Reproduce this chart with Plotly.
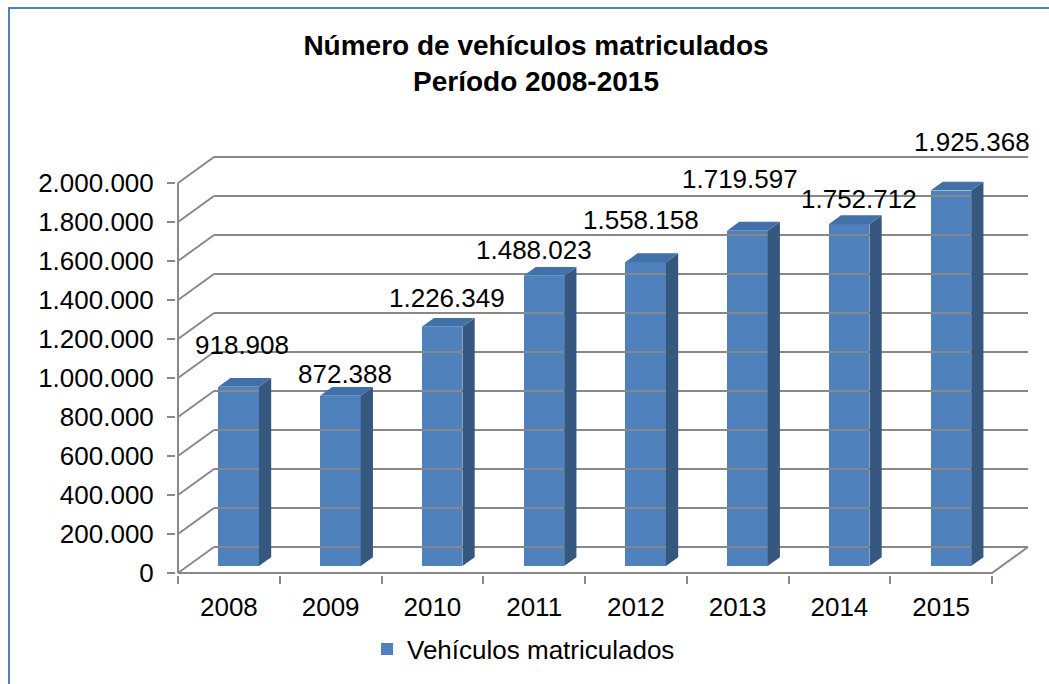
import plotly.graph_objects as go

# ---------------- data ----------------
categories = ["2008", "2009", "2010", "2011", "2012", "2013", "2014", "2015"]
values = [918908, 872388, 1226349, 1488023, 1558158, 1719597, 1752712, 1925368]
series_name = "Vehículos matriculados"
y_ticks = [0, 200000, 400000, 600000, 800000, 1000000, 1200000, 1400000,
           1600000, 1800000, 2000000]
title_lines = ["Número de vehículos matriculados", "Período 2008-2015"]

# label nudges in pixels (manual placement as in the reference)
label_dx = [3, 5, 5, -10, -5, -7, 10, 21]
label_dy = [42, 22, 29, 26, 42, 52, 25, 49]

# ---------------- geometry / style ----------------
W, H = 1049, 684
FONT = "Liberation Sans, Arial, Helvetica, sans-serif"
GRID = "#888888"
FRONT = "#4F81BD"
TOP = "#4271AA"
SIDE = "#36587F"

PLOT_L, PLOT_R, PLOT_T, PLOT_B = 176, 1032, 150, 575
X0_PX = 178            # front-left corner of floor
Y0_PX = 573            # front floor
CW = 101.75            # px per category
K = 390 / 2000000      # px per unit value
DEPTH_X_PX, DEPTH_Y_PX = 36, 26

n = len(categories)
idx = list(range(n))
x_range = [-0.5 - (X0_PX - PLOT_L) / CW, -0.5 + (PLOT_R - X0_PX) / CW]
y_range = [-(PLOT_B - Y0_PX) / K, (Y0_PX - PLOT_T) / K]
DX = DEPTH_X_PX / CW
DY = DEPTH_Y_PX / K

D1, D2 = 0.27, 0.61    # bar front/back depth fraction
BAR_W = 0.40

fig = go.Figure()

# ---------- walls / gridlines ----------
gx, gy = [], []
ymax = y_ticks[-1]
for v in y_ticks:
    gx += [-0.5 + DX, n - 0.5 + DX, None]
    gy += [v + DY, v + DY, None]
    gx += [-0.5, -0.5 + DX, None]
    gy += [v, v + DY, None]
gx += [-0.5, -0.5, None]
gy += [0, ymax, None]
gx += [-0.5, n - 0.5, n - 0.5 + DX, None]
gy += [0, 0, DY, None]
fig.add_trace(go.Scatter(x=gx, y=gy, mode="lines",
                         line=dict(color=GRID, width=2),
                         hoverinfo="skip", showlegend=False))

# ---------- bars ----------
base = D1 * DY
xc = [i + D1 * DX for i in idx]
fig.add_trace(go.Bar(x=xc, y=values, base=[base] * n, width=BAR_W,
                     marker=dict(color=FRONT, line=dict(width=0)),
                     name=series_name, showlegend=True))

dd = D2 - D1
sx, sy, tx, ty = [], [], [], []
for c, v in zip(xc, values):
    xl, xr = c - BAR_W / 2, c + BAR_W / 2
    top = base + v
    sx += [xr, xr + dd * DX, xr + dd * DX, xr, xr, None]
    sy += [base, base + dd * DY, top + dd * DY, top, base, None]
    tx += [xl, xr, xr + dd * DX, xl + dd * DX, xl, None]
    ty += [top, top, top + dd * DY, top + dd * DY, top, None]
fig.add_trace(go.Scatter(x=sx, y=sy, mode="lines", fill="toself",
                         fillcolor=SIDE, line=dict(width=0, color=SIDE),
                         hoverinfo="skip", showlegend=False))
fig.add_trace(go.Scatter(x=tx, y=ty, mode="lines", fill="toself",
                         fillcolor=TOP, line=dict(width=0, color=TOP),
                         hoverinfo="skip", showlegend=False))

# ---------- data labels ----------
for c, v, ox, oy in zip(xc, values, label_dx, label_dy):
    fig.add_annotation(x=c, y=base + v, text=f"{v:,}".replace(",", "."),
                       showarrow=False, xanchor="center", yanchor="middle",
                       xshift=ox, yshift=oy,
                       font=dict(family=FONT, size=26, color="black"))

fig.update_layout(
    width=W, height=H,
    margin=dict(l=PLOT_L, r=W - PLOT_R, t=PLOT_T, b=H - PLOT_B, pad=0,
                autoexpand=False),
    paper_bgcolor="white", plot_bgcolor="rgba(0,0,0,0)",
    separators=",.",
    font=dict(family=FONT, size=26, color="black"),
    title=dict(text="<b>" + "<br>".join(title_lines) + "</b>",
               x=536 / W, xref="container", xanchor="center",
               y=1 - 55 / H, yref="container", yanchor="middle",
               font=dict(family=FONT, size=28, color="black")),
    showlegend=True,
    legend=dict(orientation="h", xref="container", yref="container",
                x=367 / W, xanchor="left", y=1 - 649 / H, yanchor="middle",
                font=dict(family=FONT, size=26, color="black"),
                bgcolor="rgba(0,0,0,0)"),
    bargap=0,
    shapes=[dict(type="rect", xref="paper", yref="paper",
                 x0=(9 - PLOT_L) / (PLOT_R - PLOT_L),
                 x1=(W + 20 - PLOT_L) / (PLOT_R - PLOT_L),
                 y0=(PLOT_B - (H + 20)) / (PLOT_B - PLOT_T),
                 y1=(PLOT_B - 8) / (PLOT_B - PLOT_T),
                 line=dict(color="#4F81BD", width=2), layer="below")],
)

fig.update_xaxes(range=x_range, tickmode="array", tickvals=idx,
                 ticktext=categories, ticks="", showgrid=False,
                 zeroline=False, showline=False, ticklabelstandoff=14,
                 automargin=False,
                 tickfont=dict(family=FONT, size=26, color="black"),
                 minor=dict(tickmode="linear", tick0=-0.5, dtick=1,
                            ticks="outside", ticklen=8, tickcolor=GRID,
                            tickwidth=2, showgrid=False),
                 fixedrange=True)
fig.update_yaxes(range=y_range, tickmode="array", tickvals=y_ticks,
                 tickformat=",d", ticks="outside", ticklen=8,
                 tickcolor=GRID, tickwidth=2, showgrid=False,
                 zeroline=False, showline=False, ticklabelstandoff=8,
                 automargin=False,
                 tickfont=dict(family=FONT, size=26, color="black"),
                 fixedrange=True)

fig.write_html("out.html",
               config={"displayModeBar": False},
               post_script="document.body.style.margin='0';"
                           "document.body.style.padding='0';")
